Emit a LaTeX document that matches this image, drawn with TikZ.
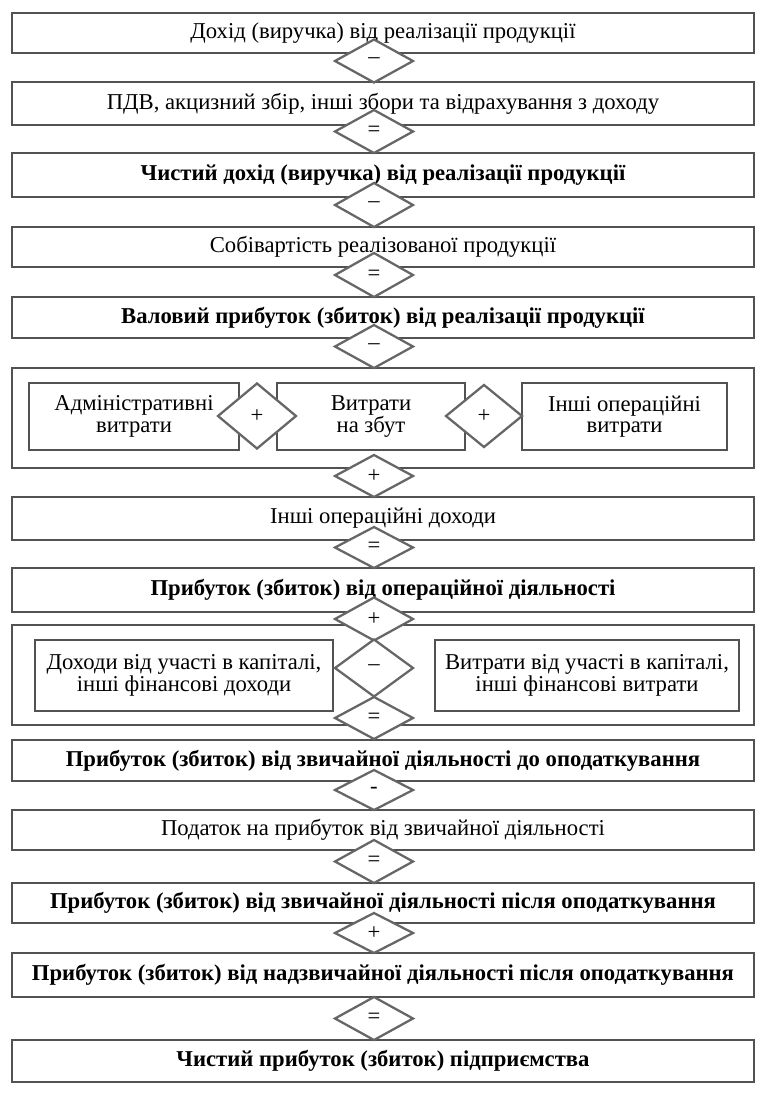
\documentclass[tikz,border=0pt]{standalone}
\usepackage{fontspec}
\setmainfont{Liberation Serif}
\usetikzlibrary{shapes.geometric}
\newcommand\bx[7]{\node[#6, minimum width={(#4-#2)*0.75pt}, minimum height={(#5-#3)*0.75pt}] (#1) at ({(#2+#4)/2},{(#3+#5)/2}) {#7};}
\newcommand\opd[6]{\node[opsign, minimum width={#4*0.75pt}, minimum height={#5*0.75pt}] (#1) at (#2,#3) {#6};}
\begin{document}
\begin{tikzpicture}[x=0.75pt,y=-0.75pt,
  every node/.style={inner sep=0pt, outer sep=0pt, font=\fontsize{17}{16}\selectfont, align=center},
  box/.style={rectangle, draw=black!68, line width=1.7pt, fill=white},
  boldbox/.style={box, font=\fontsize{17}{16}\selectfont\bfseries},
  opsign/.style={diamond, draw=black!60, line width=1.7pt, fill=white}]
\useasboundingbox (0,0) rectangle (763,1093);
\fill[white] (0,0) rectangle (763,1093);
% main column
\bx{b1}{12}{13}{754}{53}{box}{Дохід (виручка) від реалізації продукції}
\bx{b2}{12}{82}{754}{125}{box}{ПДВ, акцизний збір, інші збори та відрахування з доходу}
\bx{b3}{12}{153}{754}{197}{boldbox}{Чистий дохід (виручка) від реалізації продукції}
\bx{b4}{12}{227}{754}{267}{box}{Собівартість реалізованої продукції}
\bx{b5}{12}{297}{754}{338}{boldbox}{Валовий прибуток (збиток) від реалізації продукції}
\bx{g1}{12}{368}{754}{468}{box}{}
\bx{ga}{29}{383}{239}{450}{box}{Адміністративні\\витрати}
\bx{gb}{277}{383}{465}{450}{box}{Витрати\\на збут}
\bx{gc}{522}{383}{727}{450}{box}{Інші операційні\\витрати}
\bx{b6}{12}{497}{754}{540}{box}{Інші операційні доходи}
\bx{b7}{12}{568}{754}{612}{boldbox}{Прибуток (збиток) від операційної діяльності}
\bx{g2}{12}{625}{754}{725}{box}{}
\bx{gl}{35}{640}{333}{711}{box}{Доходи від участі в капіталі,\\інші фінансові доходи}
\bx{gr}{435}{640}{739}{711}{box}{Витрати від участі в капіталі,\\інші фінансові витрати}
\bx{b8}{12}{740}{754}{781}{boldbox}{Прибуток (збиток) від звичайної діяльності до оподаткування}
\bx{b9}{12}{810}{754}{850}{box}{Податок на прибуток від звичайної діяльності}
\bx{b10}{12}{883}{754}{923}{boldbox}{Прибуток (збиток) від звичайної діяльності після оподаткування}
\bx{b11}{12}{953}{754}{997}{boldbox}{Прибуток (збиток) від надзвичайної діяльності після оподаткування}
\bx{b12}{12}{1040}{754}{1082}{boldbox}{Чистий прибуток (збиток) підприємства}
% operators
\opd{d1}{374}{61}{78}{43}{–}
\opd{d2}{374}{131.5}{78}{43}{=}
\opd{d3}{374}{205}{78}{44}{–}
\opd{d4}{374}{275}{78}{44}{=}
\opd{d5}{374}{346.5}{78}{43}{–}
\opd{da}{257}{416}{78}{65}{+}
\opd{db}{484}{416}{76}{62}{+}
\opd{d6}{374}{476}{78}{42}{+}
\opd{d7}{374}{547.5}{78}{41}{=}
\opd{d8}{374}{619}{78}{43}{+}
\opd{d9}{374}{668}{78}{57}{–}
\opd{d10}{374}{718}{78}{42}{=}
\opd{d11}{374}{790}{78}{40}{-}
\opd{d12}{374}{861.5}{78}{43}{=}
\opd{d13}{374}{933}{78}{40}{+}
\opd{d14}{374}{1018.5}{78}{43}{=}
\end{tikzpicture}
\end{document}
